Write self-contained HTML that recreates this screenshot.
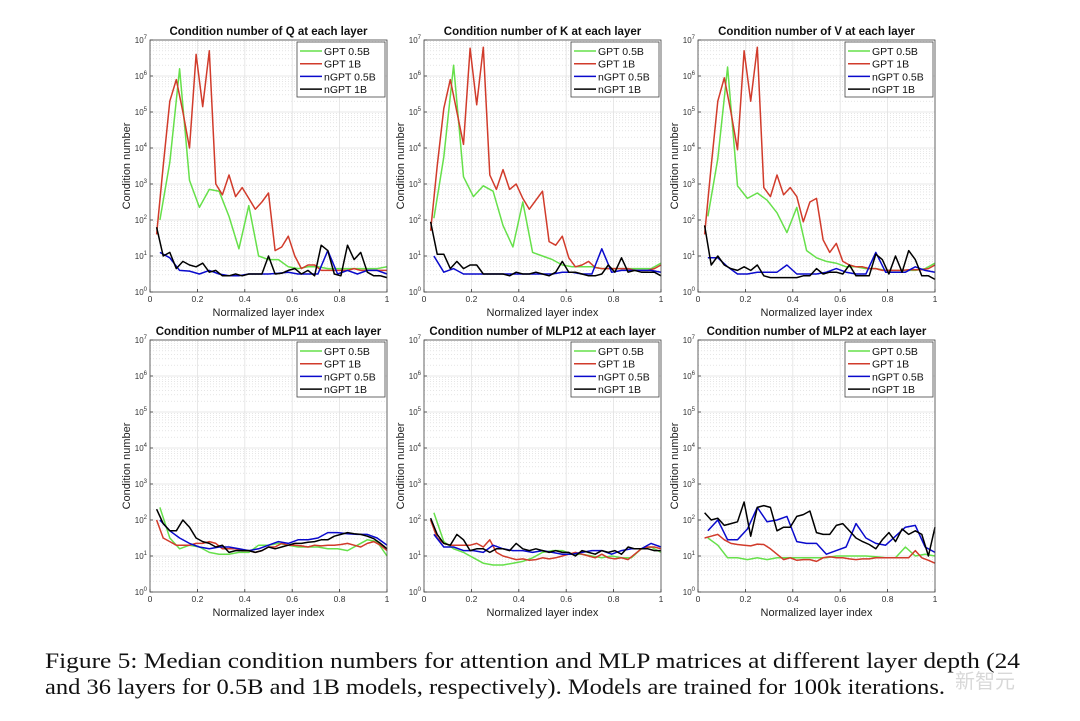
<!DOCTYPE html>
<html><head><meta charset="utf-8"><style>
html,body{margin:0;padding:0;background:#fff;}
svg{display:block;}
</style></head><body>
<svg id="fig" width="1080" height="721" viewBox="0 0 1080 721" xmlns="http://www.w3.org/2000/svg" font-family="Liberation Sans, Arial, sans-serif">
<g id="panels"></g>
<g font-family="Liberation Serif, serif" font-size="22" fill="#111">
<text x="45" y="668" textLength="975" lengthAdjust="spacingAndGlyphs">Figure 5:   Median condition numbers for attention and MLP matrices at different layer depth (24</text>
<text x="45" y="694" textLength="900" lengthAdjust="spacingAndGlyphs">and 36 layers for 0.5B and 1B models, respectively). Models are trained for 100k iterations.</text>
</g>
<text x="955" y="688" font-family="Liberation Sans, Noto Sans CJK SC, sans-serif" font-size="20" fill="#d8d8d8">新智元</text>
</svg>
<script>
// Data: log10 of condition number
const titles = ["Condition number of Q at each layer","Condition number of K at each layer","Condition number of V at each layer","Condition number of MLP11 at each layer","Condition number of MLP12 at each layer","Condition number of MLP2 at each layer"];
const seriesNames = ["GPT 0.5B","GPT 1B","nGPT 0.5B","nGPT 1B"];
const yTickExps = [0,1,2,3,4,5,6,7];
const xTicks = [0,0.2,0.4,0.6,0.8,1];
const xTickLabels = ["0","0.2","0.4","0.6","0.8","1"];

const qGpt05 = [2.0,3.6,6.2,3.1,2.35,2.85,2.8,2.1,1.2,2.4,1.0,0.9,0.9,0.7,0.65,0.7,0.7,0.65,0.65,0.65,0.65,0.65,0.65,0.7];
const qGpt1 = [1.6,3.5,5.3,5.9,5.0,4.0,6.6,5.15,6.7,3.0,2.7,3.25,2.65,2.9,2.6,2.3,2.5,2.75,1.15,1.25,1.55,1.0,0.65,0.75,0.75,0.6,0.6,0.6,0.6,0.6,0.65,0.6,0.6,0.6,0.6,0.6];
const qNgpt05 = [1.1,0.95,0.6,0.58,0.5,0.6,0.5,0.45,0.45,0.5,0.5,0.5,0.52,0.55,0.5,0.5,0.5,1.15,0.5,0.6,0.5,0.6,0.6,0.5];
const qNgpt1 = [1.8,1.0,1.1,0.65,0.85,0.75,0.7,0.8,0.55,0.6,0.45,0.45,0.5,0.45,0.5,0.5,0.5,1.0,0.5,0.52,0.6,0.65,0.5,0.6,0.45,1.3,1.15,0.5,0.45,1.3,0.9,1.1,0.55,0.45,0.45,0.4];

const kGpt05 = [2.05,3.75,6.3,3.2,2.65,2.95,2.8,1.85,1.25,2.5,1.1,1.0,0.9,0.75,0.7,0.7,0.7,0.65,0.65,0.65,0.65,0.65,0.65,0.8];
const kGpt1 = [1.7,3.5,5.1,5.9,5.0,4.1,6.77,5.2,6.8,3.25,2.85,3.4,2.85,3.0,2.6,2.3,2.55,2.8,1.4,1.3,1.55,0.95,0.7,0.75,0.85,0.68,0.65,0.65,0.65,0.65,0.65,0.6,0.6,0.6,0.65,0.75];
const kNgpt05 = [1.0,0.55,0.65,0.5,0.5,0.5,0.5,0.5,0.5,0.5,0.5,0.5,0.5,0.55,0.55,0.5,0.5,1.2,0.55,0.6,0.6,0.6,0.6,0.55];
const kNgpt1 = [1.95,1.05,1.05,0.65,0.85,0.65,0.75,0.75,0.5,0.5,0.5,0.5,0.45,0.55,0.5,0.5,0.55,0.5,0.45,0.55,0.85,0.55,0.55,0.5,0.45,0.45,0.5,0.75,0.55,0.95,0.55,0.6,0.55,0.55,0.55,0.45];

const vGpt05 = [2.1,3.7,6.25,2.95,2.6,2.75,2.55,2.2,1.65,2.35,1.15,0.95,0.85,0.8,0.7,0.7,0.65,0.65,0.6,0.6,0.6,0.6,0.65,0.8];
const vGpt1 = [1.6,3.5,5.3,5.95,5.0,3.95,6.7,5.3,6.8,2.9,2.65,3.25,2.7,2.9,2.65,1.95,2.5,2.6,1.45,1.1,1.35,0.85,0.75,0.7,0.7,0.65,0.65,0.6,0.6,0.6,0.6,0.62,0.62,0.62,0.65,0.75];
const vNgpt05 = [0.95,0.95,0.7,0.5,0.5,0.55,0.55,0.55,0.75,0.5,0.5,0.5,0.55,0.65,0.55,0.5,0.5,1.1,0.55,0.55,0.55,0.7,0.6,0.55];
const vNgpt1 = [1.85,0.75,1.0,0.75,0.65,0.6,0.7,0.6,0.75,0.45,0.4,0.4,0.4,0.4,0.4,0.45,0.45,0.65,0.5,0.55,0.55,0.5,0.75,0.45,0.45,0.45,1.05,0.9,0.5,1.0,0.55,1.15,0.9,0.45,0.45,0.35];

const m11Gpt05 = [2.35,1.5,1.2,1.3,1.25,1.1,1.05,1.05,1.1,1.1,1.3,1.3,1.35,1.3,1.25,1.25,1.25,1.2,1.2,1.15,1.3,1.45,1.4,1.0];
const m11Gpt1 = [2.0,1.5,1.4,1.3,1.3,1.3,1.35,1.35,1.4,1.35,1.2,1.2,1.2,1.15,1.15,1.1,1.15,1.25,1.25,1.35,1.3,1.3,1.28,1.25,1.3,1.28,1.3,1.3,1.32,1.35,1.3,1.25,1.35,1.4,1.3,1.15];
const m11Ngpt05 = [2.0,1.7,1.5,1.35,1.25,1.2,1.25,1.25,1.2,1.15,1.2,1.3,1.4,1.35,1.45,1.45,1.5,1.65,1.65,1.62,1.6,1.6,1.5,1.3];
const m11Ngpt1 = [2.3,1.9,1.7,1.7,2.0,1.8,1.5,1.4,1.35,1.25,1.3,1.1,1.15,1.15,1.15,1.1,1.15,1.25,1.2,1.25,1.3,1.35,1.35,1.38,1.4,1.45,1.45,1.55,1.6,1.65,1.62,1.6,1.55,1.48,1.35,1.2];

const m12Gpt05 = [2.2,1.4,1.2,1.1,0.95,0.8,0.75,0.75,0.8,0.85,0.95,1.1,1.15,1.15,1.05,1.05,1.0,0.95,1.0,0.95,0.95,1.2,1.25,1.1];
const m12Gpt1 = [2.0,1.5,1.35,1.3,1.3,1.3,1.3,1.35,1.25,1.45,1.1,1.0,0.95,0.9,0.92,0.88,0.9,0.95,0.92,0.95,1.0,1.05,1.1,1.05,1.0,0.95,1.05,0.95,0.92,0.95,0.9,1.05,1.2,1.25,1.25,1.2];
const m12Ngpt05 = [1.6,1.25,1.25,1.15,1.15,1.1,1.3,1.2,1.15,1.15,1.1,1.15,1.1,1.05,1.05,1.1,1.15,1.15,1.05,1.15,1.2,1.2,1.35,1.25];
const m12Ngpt1 = [2.05,1.6,1.35,1.3,1.6,1.45,1.15,1.2,1.2,1.1,1.2,1.2,1.15,1.35,1.2,1.15,1.2,1.15,1.1,1.15,1.1,1.1,1.0,1.15,1.1,1.05,1.15,1.1,1.15,1.05,1.25,1.2,1.2,1.2,1.15,1.15];

const m2Gpt05 = [1.5,1.3,0.95,0.95,0.9,0.95,0.9,0.95,0.95,0.95,0.95,0.95,0.95,1.0,1.0,1.0,1.0,0.98,0.95,0.95,1.25,1.0,1.05,1.0];
const m2Gpt1 = [1.5,1.55,1.6,1.45,1.35,1.32,1.3,1.28,1.33,1.32,1.2,1.05,0.9,0.95,0.88,0.9,0.9,0.85,0.95,0.98,0.95,0.95,0.92,0.9,0.92,0.92,0.95,0.95,0.95,0.95,0.95,0.95,1.15,0.95,0.88,0.8];
const m2Ngpt05 = [1.7,2.0,1.45,1.45,1.75,2.35,1.95,2.0,2.1,1.4,1.35,1.35,1.05,1.15,1.25,1.9,1.5,1.35,1.3,1.55,1.8,1.85,1.25,1.1];
const m2Ngpt1 = [2.2,2.0,2.05,1.85,1.9,1.95,2.5,1.55,2.35,2.4,2.35,1.7,1.8,1.8,2.1,2.15,2.25,1.65,1.6,1.6,1.85,1.9,1.7,1.5,1.4,1.32,1.2,1.45,1.65,1.4,1.75,1.6,1.7,1.6,1.0,1.8];

const panelData = [
 [qGpt05,qGpt1,qNgpt05,qNgpt1],[kGpt05,kGpt1,kNgpt05,kNgpt1],[vGpt05,vGpt1,vNgpt05,vNgpt1],
 [m11Gpt05,m11Gpt1,m11Ngpt05,m11Ngpt1],[m12Gpt05,m12Gpt1,m12Ngpt05,m12Ngpt1],[m2Gpt05,m2Gpt1,m2Ngpt05,m2Ngpt1]];
const colors = ["#66e04a","#d13b2b","#0a0acc","#000000"];
const seriesKeys = ["gpt-0-5b","gpt-1b","ngpt-0-5b","ngpt-1b"];
const NS = "http://www.w3.org/2000/svg";
function mk(tag, attrs, parent){const e=document.createElementNS(NS,tag);for(const k in attrs)e.setAttribute(k,attrs[k]);parent.appendChild(e);return e;}
const root = document.getElementById('panels');
const W = 237, H = 252, Y0 = 7;
for (let p = 0; p < 6; p++) {
  const left = 150 + (p % 3) * 274, top = 40 + Math.floor(p / 3) * 300;
  const xs = v => left + v * W;
  const ys = e => top + H - e * (H / Y0);
  const g = mk('g', {}, root);
  
  
  mk('rect', {x: left, y: top, width: W, height: H, fill: '#fff'}, g);
  for (let d = 0; d < Y0; d++) for (let m = 2; m <= 9; m++) {
    const y = ys(d + Math.log10(m));
    mk('line', {x1: left, x2: left + W, y1: y, y2: y, stroke: '#d6d6d6', 'stroke-width': 0.6, 'stroke-dasharray': '1,2'}, g);
  }
  yTickExps.forEach(e => {
    const y = ys(e);
    mk('line', {x1: left, x2: left + W, y1: y, y2: y, stroke: '#e2e2e2', 'stroke-width': 0.8}, g);
    mk('line', {x1: left, x2: left + 3, y1: y, y2: y, stroke: '#333', 'stroke-width': 0.8}, g);
    const t = mk('text', {x: left - 3, y: y + 3, 'font-size': 8, 'text-anchor': 'end', fill: '#333'}, g);
    
    
    t.textContent = '10';
    const s = mk('tspan', {dy: -4, 'font-size': 6}, t); s.textContent = e;
  });
  xTicks.forEach((v, i) => {
    const x = xs(v);
    mk('line', {x1: x, x2: x, y1: top, y2: top + H, stroke: '#e2e2e2', 'stroke-width': 0.8}, g);
    mk('line', {x1: x, x2: x, y1: top + H, y2: top + H - 3, stroke: '#333', 'stroke-width': 0.8}, g);
    const t = mk('text', {x: x, y: top + H + 10, 'font-size': 8.5, 'text-anchor': 'middle', fill: '#333'}, g);
    
    
    t.textContent = xTickLabels[i];
  });
  panelData[p].forEach((arr, si) => {
    const n = arr.length;
    const pts = arr.map((e, i) => xs((i + 1) / n).toFixed(1) + ',' + ys(e).toFixed(1)).join(' ');
    const pl = mk('polyline', {points: pts, fill: 'none', stroke: colors[si], 'stroke-width': 1.5, 'stroke-linejoin': 'round'}, g);
    
    
  });
  mk('rect', {x: left, y: top, width: W, height: H, fill: 'none', stroke: '#444', 'stroke-width': 0.8}, g);
  const tt = mk('text', {x: left + W / 2, y: top - 5, 'font-size': 11.5, 'font-weight': 'bold', 'text-anchor': 'middle', fill: '#111'}, g);
  
  
  tt.textContent = titles[p];
  const xl = mk('text', {x: left + W / 2, y: top + H + 24, 'font-size': 11, 'text-anchor': 'middle', fill: '#222'}, g);
  
  
  xl.textContent = 'Normalized layer index';
  const yl = mk('text', {x: 0, y: 0, 'font-size': 11, 'text-anchor': 'middle', fill: '#222', transform: 'translate(' + (left - 20) + ',' + (top + H / 2) + ') rotate(-90)'}, g);
  
  
  yl.textContent = 'Condition number';
  const lg = mk('g', {}, g);
  
  
  mk('rect', {x: left + W - 90, y: top + 2, width: 88, height: 55, fill: '#fff', stroke: '#444', 'stroke-width': 0.8}, lg);
  seriesNames.forEach((nm, si) => {
    const y = top + 11 + si * 12.7;
    const le = mk('g', {}, lg);
    
    
    mk('line', {x1: left + W - 87, x2: left + W - 65, y1: y, y2: y, stroke: colors[si], 'stroke-width': 1.5}, le);
    const t = mk('text', {x: left + W - 63, y: y + 4, 'font-size': 10.5, fill: '#111'}, le);
    t.textContent = nm;
  });
}
</script>
</body></html>
